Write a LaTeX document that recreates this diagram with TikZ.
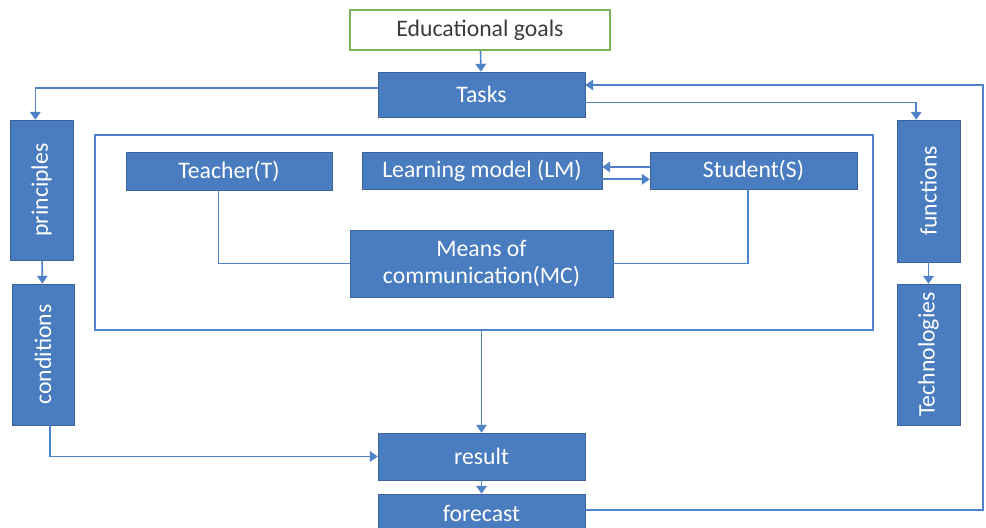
\documentclass[tikz,border=0pt]{standalone}
\usepackage{fontspec}
\setmainfont{Carlito}
\usetikzlibrary{arrows.meta,positioning}
\definecolor{blockblue}{RGB}{74,124,192}
\definecolor{lineblue}{RGB}{80,130,200}
\definecolor{goalgreen}{RGB}{120,180,90}
\definecolor{goaltext}{RGB}{60,60,60}

\tikzset{
  block/.style={fill=blockblue, draw=blockblue!80!black, line width=0.3pt, text=white,
    font=\fontsize{13.5}{15.5}\selectfont, align=center, inner sep=0pt},
  vblock/.style={block, rotate=90},
  link/.style={draw=lineblue, line width=0.9pt},
  arr/.style={link, -{Triangle[width=6pt,length=4.5pt]}}
}

\begin{document}
\begin{tikzpicture}[x=0.02cm, y=-0.02cm]
\useasboundingbox (0,0) rectangle (986,527);

% frame around the participants
\node[draw=lineblue, line width=0.9pt, minimum width=15.56cm, minimum height=3.9cm,
  inner sep=0pt] (frame) at (484,232.5) {};

% top
\node[draw=goalgreen, line width=0.9pt, text=goaltext, minimum width=5.2cm, minimum height=0.8cm,
  font=\fontsize{13.5}{15.5}\selectfont] (goals) at (480,30) {Educational goals};
\node[block, minimum width=4.14cm, minimum height=0.9cm] (tasks) at (481.5,94.5) {Tasks};

% left column
\node[vblock, minimum width=2.8cm, minimum height=1.26cm] (principles) at (41.5,190) {principles};
\node[vblock, minimum width=2.82cm, minimum height=1.24cm] (conditions) at (43,354.5) {conditions};

% right column
\node[vblock, minimum width=2.84cm, minimum height=1.26cm] (functions) at (928.5,191) {functions};
\node[vblock, minimum width=2.82cm, minimum height=1.26cm] (technologies) at (928.5,354.5) {Technologies};

% inside the frame
\node[block, minimum width=4.12cm, minimum height=0.76cm] (teacher) at (229,171) {Teacher(T)};
\node[block, minimum width=4.8cm, minimum height=0.74cm] (lm) at (482,170.5) {Learning model (LM)};
\node[block, minimum width=4.14cm, minimum height=0.74cm] (student) at (753.5,170.5) {Student(S)};
\node[block, minimum width=5.26cm, minimum height=1.34cm] (mc) at (481.5,263.5) {Means of\\communication(MC)};

% bottom
\node[block, minimum width=4.14cm, minimum height=0.94cm] (result) at (481.5,456.5) {result};
\node[block, minimum width=4.14cm, minimum height=0.76cm] (forecast) at (481.5,513) {forecast};

\coordinate (outer) at (983,0);

% connectors
\draw[arr] (goals) -- (tasks);
\draw[arr] ([yshift=3.6pt]tasks.west) -| ([xshift=-3.5pt]principles.east);
\draw[arr] (principles) -- (conditions);
\draw[arr] ([xshift=4pt]conditions.west) |- (result.west);
\draw[arr] ([yshift=-4.6pt]tasks.east) -| ([xshift=-7pt]functions.east);
\draw[arr] (functions) -- (technologies);
\draw[arr] ([yshift=1.7pt]forecast.east) -- ([yshift=1.7pt]forecast.east -| outer)
  |- ([yshift=5.4pt]tasks.east);

\draw[link] ([xshift=-6pt]teacher.south) |- (mc.west);
\draw[link] ([xshift=-3pt]student.south) |- (mc.east);
\draw[arr] ([yshift=2pt]student.west) -- ([yshift=2pt]lm.east);
\draw[arr] ([yshift=-5pt]lm.east) -- ([yshift=-5pt]student.west);

\draw[arr] (result.north |- frame.south) -- (result.north);
\draw[arr] (result) -- (forecast);
\end{tikzpicture}
\end{document}
